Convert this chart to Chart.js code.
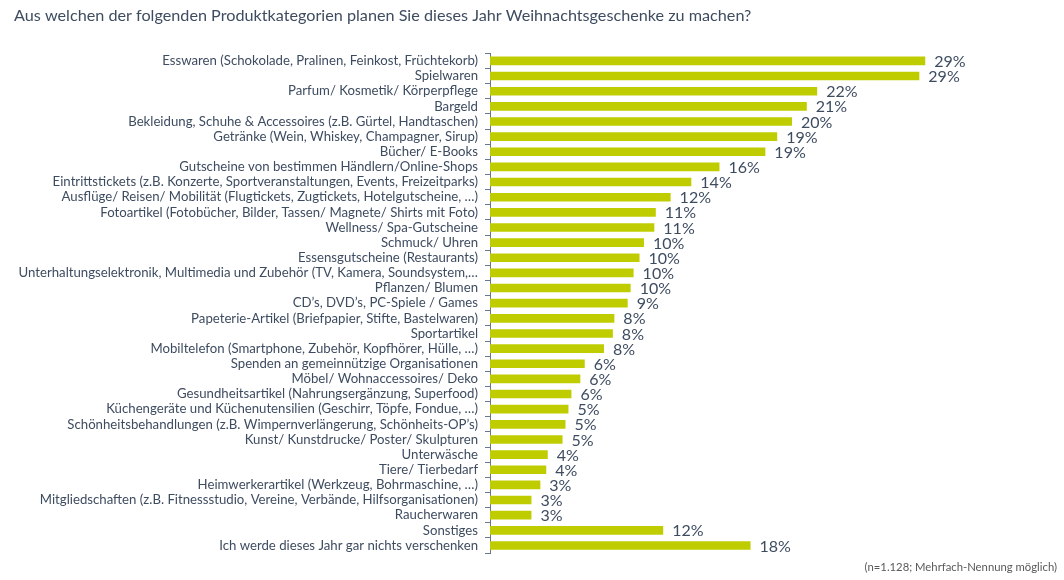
<!DOCTYPE html>
<html>
<head>
<meta charset="utf-8">
<script src="https://cdn.jsdelivr.net/npm/chart.js@4"></script>
<style>
  body { margin: 0; background: #fff; }
  #wrap { width: 1064px; height: 580px; }
</style>
</head>
<body>
<div id="wrap"><canvas id="chart"></canvas></div>
<script>
const categories = [
    'Esswaren (Schokolade, Pralinen, Feinkost, Früchtekorb)',
    'Spielwaren',
    'Parfum/ Kosmetik/ Körperpflege',
    'Bargeld',
    'Bekleidung, Schuhe & Accessoires (z.B. Gürtel, Handtaschen)',
    'Getränke (Wein, Whiskey, Champagner, Sirup)',
    'Bücher/ E-Books',
    'Gutscheine von bestimmen Händlern/Online-Shops',
    'Eintrittstickets (z.B. Konzerte, Sportveranstaltungen, Events, Freizeitparks)',
    'Ausflüge/ Reisen/ Mobilität (Flugtickets, Zugtickets, Hotelgutscheine, …)',
    'Fotoartikel (Fotobücher, Bilder, Tassen/ Magnete/ Shirts mit Foto)',
    'Wellness/ Spa-Gutscheine',
    'Schmuck/ Uhren',
    'Essensgutscheine (Restaurants)',
    'Unterhaltungselektronik, Multimedia und Zubehör (TV, Kamera, Soundsystem,…',
    'Pflanzen/ Blumen',
    'CD’s, DVD’s, PC-Spiele / Games',
    'Papeterie-Artikel (Briefpapier, Stifte, Bastelwaren)',
    'Sportartikel',
    'Mobiltelefon (Smartphone, Zubehör, Kopfhörer, Hülle, …)',
    'Spenden an gemeinnützige Organisationen',
    'Möbel/ Wohnaccessoires/ Deko',
    'Gesundheitsartikel (Nahrungsergänzung, Superfood)',
    'Küchengeräte und Küchenutensilien (Geschirr, Töpfe, Fondue, …)',
    'Schönheitsbehandlungen (z.B. Wimpernverlängerung, Schönheits-OP’s)',
    'Kunst/ Kunstdrucke/ Poster/ Skulpturen',
    'Unterwäsche',
    'Tiere/ Tierbedarf',
    'Heimwerkerartikel (Werkzeug, Bohrmaschine, …)',
    'Mitgliedschaften (z.B. Fitnessstudio, Vereine, Verbände, Hilfsorganisationen)',
    'Raucherwaren',
    'Sonstiges',
    'Ich werde dieses Jahr gar nichts verschenken'
];

// Anteil in Prozent (aus Balkenlänge geschätzt)
const shares = [
    29.4, 29.0, 22.1, 21.4, 20.4, 19.4, 18.6, 15.5, 13.6, 12.2, 11.2,
    11.1, 10.4, 10.1, 9.7, 9.5, 9.3, 8.4, 8.3, 7.7, 6.4, 6.1,
    5.5, 5.3, 5.1, 4.9, 3.9, 3.8, 3.4, 2.8, 2.8, 11.7, 17.6
];

const chartTitle = 'Aus welchen der folgenden Produktkategorien planen Sie dieses Jahr Weihnachtsgeschenke zu machen?';
const footNote = '(n=1.128; Mehrfach-Nennung möglich)';

const textColor = '#3E4C60';
const fontFamily = "Lato, 'Open Sans', sans-serif";

// Prozentwerte rechts neben den Balken
const valueLabels = {
    id: 'valueLabels',
    afterDatasetsDraw(chart) {
        const ctx = chart.ctx;
        const meta = chart.getDatasetMeta(0);
        ctx.save();
        ctx.font = '16px ' + fontFamily;
        ctx.fillStyle = textColor;
        ctx.textAlign = 'left';
        ctx.textBaseline = 'middle';
        meta.data.forEach((bar, i) => {
            ctx.fillText(Math.round(shares[i]) + '%', bar.x + 9, bar.y + 1);
        });
        ctx.restore();
    }
};

const ctx = document.getElementById('chart').getContext('2d');
window.myChart = new Chart(ctx, {
    type: 'bar',
    data: {
        labels: categories,
        datasets: [{
            label: 'Anteil',
            data: shares,
            backgroundColor: '#BFCD00',
            borderWidth: 0,
            barPercentage: 0.6,
            categoryPercentage: 0.95
        }]
    },
    options: {
        indexAxis: 'y',
        responsive: true,
        maintainAspectRatio: false,
        animation: false,
        layout: {
            padding: { left: 14, right: 7, top: 0, bottom: 0 }
        },
        plugins: {
            legend: { display: false },
            tooltip: { enabled: false },
            title: {
                display: true,
                text: chartTitle,
                align: 'start',
                color: textColor,
                font: { family: fontFamily, size: 16.2, weight: 'normal' },
                padding: { top: 6.3, bottom: 27.6 }
            },
            subtitle: {
                display: true,
                position: 'bottom',
                text: footNote,
                align: 'end',
                color: '#595959',
                font: { family: fontFamily, size: 11.3, weight: 'normal' },
                padding: { top: 7.2, bottom: 6.2 }
            }
        },
        scales: {
            x: {
                display: false,
                min: 0,
                max: 38.3
            },
            y: {
                afterFit(scale) {
                    scale.width = 476;
                },
                border: { display: true, color: '#6A7585', width: 1 },
                grid: {
                    offset: true,
                    drawOnChartArea: false,
                    drawTicks: true,
                    tickLength: 5,
                    color: '#6A7585'
                },
                ticks: {
                    autoSkip: false,
                    padding: 7,
                    color: textColor,
                    font: { family: fontFamily, size: 13.2 }
                }
            }
        }
    },
    plugins: [valueLabels]
});
</script>
</body>
</html>
